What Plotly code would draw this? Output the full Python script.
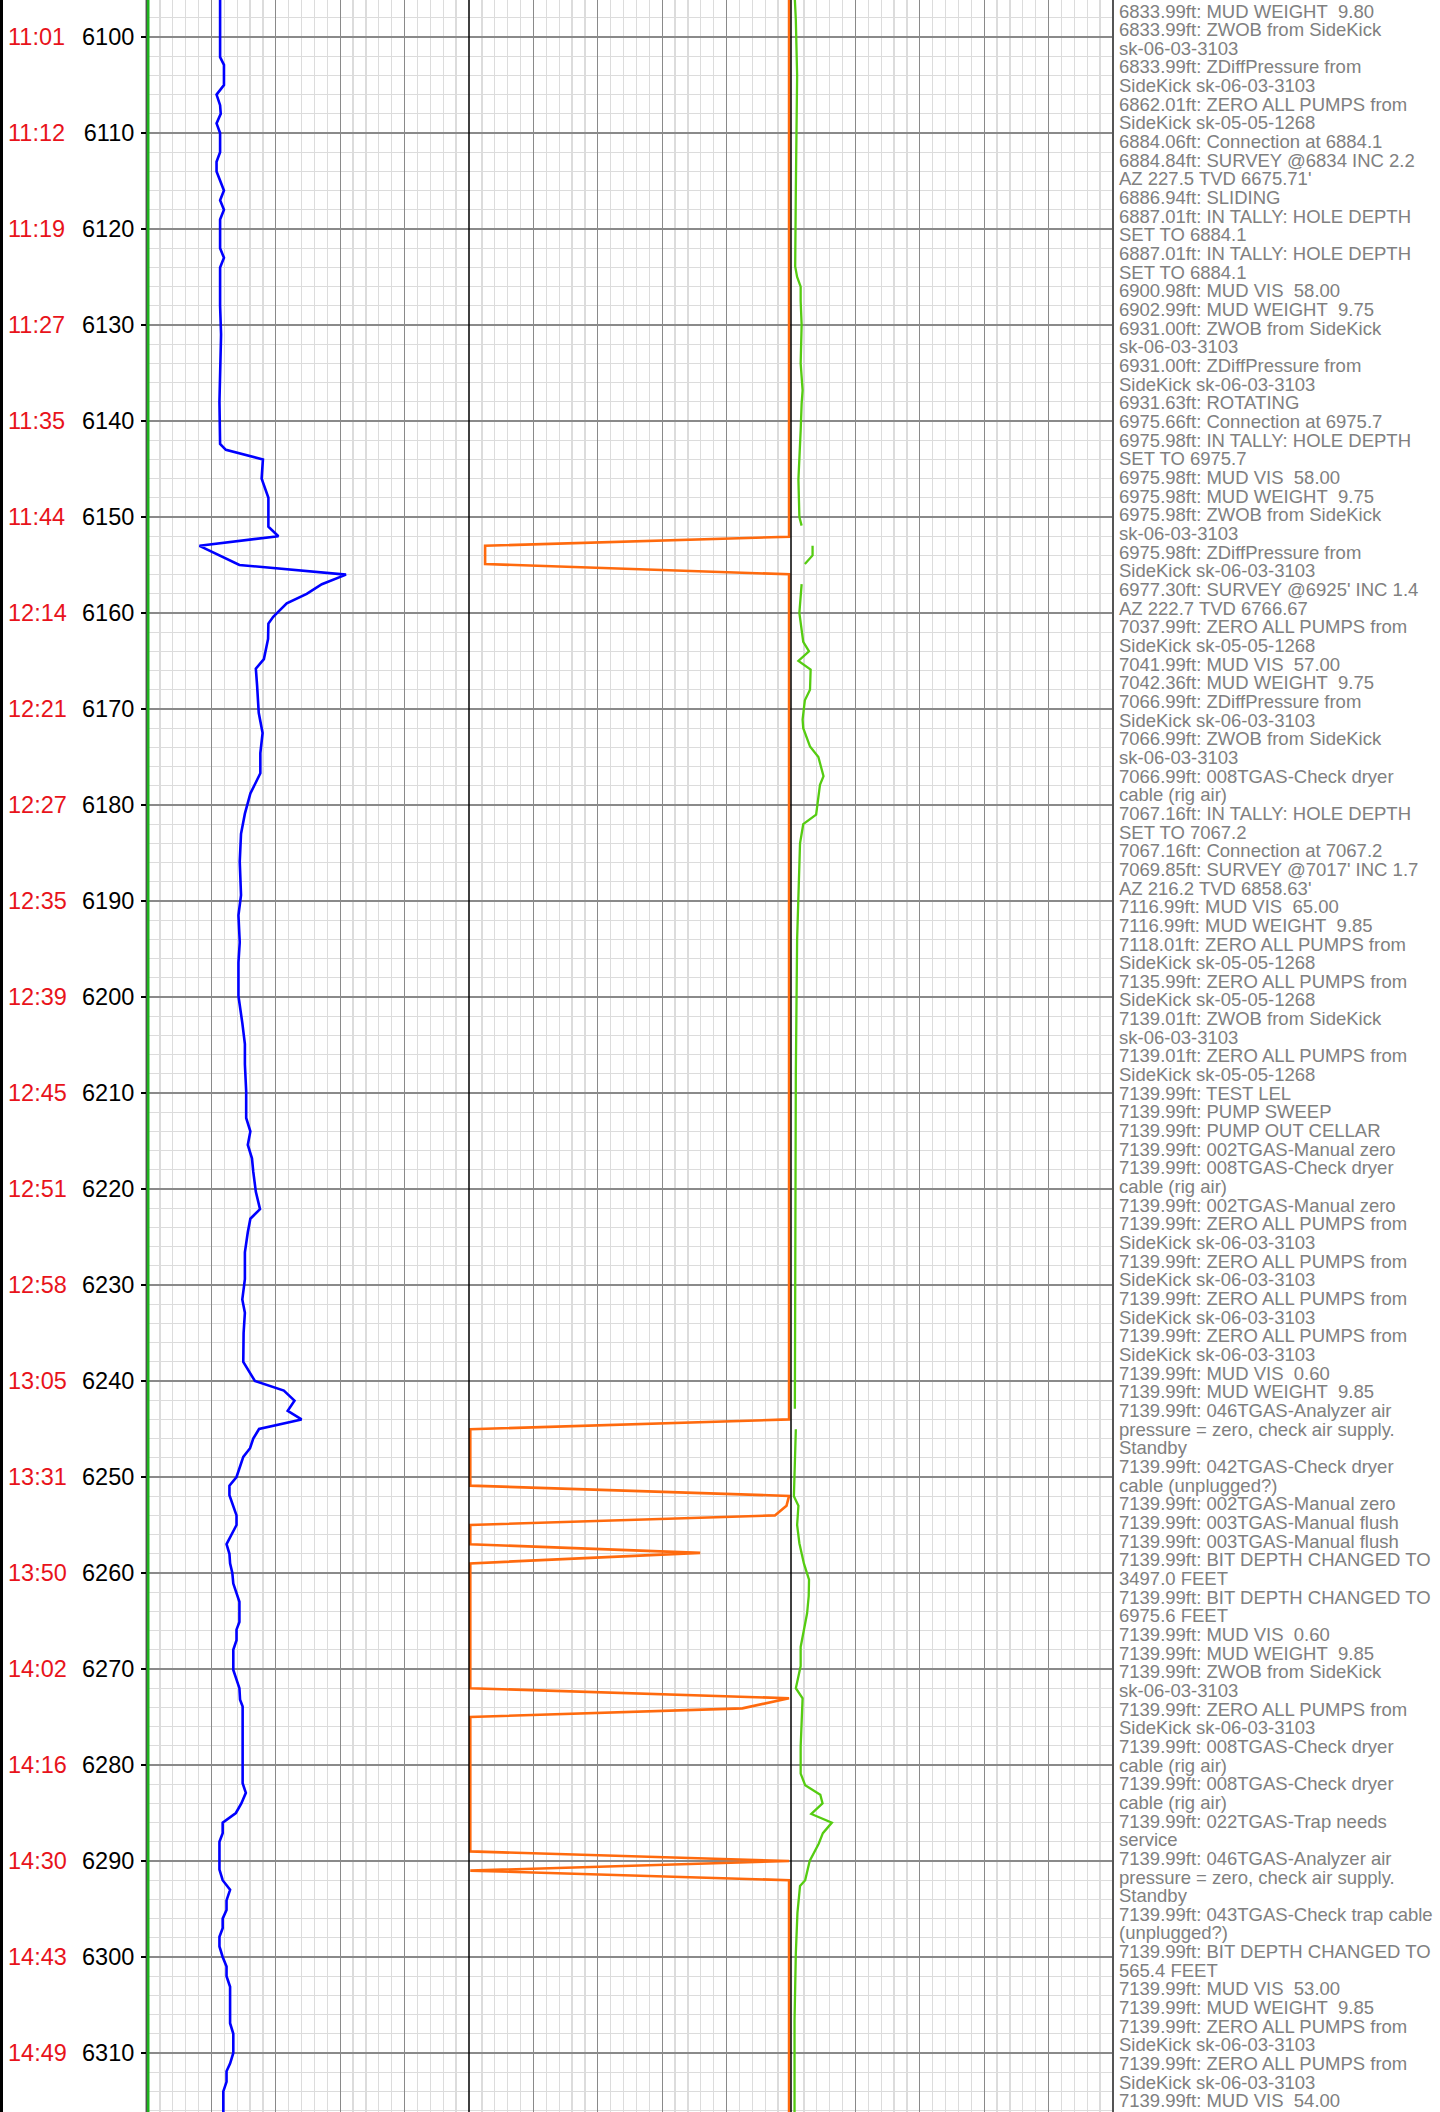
import plotly.graph_objects as go

# ---------------- data ----------------
tick_depths = [6100, 6110, 6120, 6130, 6140, 6150, 6160, 6170, 6180, 6190, 6200,
               6210, 6220, 6230, 6240, 6250, 6260, 6270, 6280, 6290, 6300, 6310]
tick_times = ["11:01", "11:12", "11:19", "11:27", "11:35", "11:44", "12:14", "12:21",
              "12:27", "12:35", "12:39", "12:45", "12:51", "12:58", "13:05", "13:31",
              "13:50", "14:02", "14:16", "14:30", "14:43", "14:49"]

blue_depth = [6096.1, 6102.1, 6102.9, 6105, 6106, 6107.1, 6108, 6109, 6110, 6112, 6113,
              6114, 6116, 6117, 6118, 6119, 6122, 6123, 6124, 6128, 6131, 6135, 6138,
              6142.4, 6143, 6144, 6146, 6148, 6151, 6152, 6153, 6155, 6156, 6157, 6158,
              6159, 6160.4, 6161.1, 6162.7, 6164.8, 6165.8, 6167.6, 6170.4, 6172.5,
              6174.6, 6176.7, 6178.8, 6180.9, 6183, 6185.9, 6189.4, 6191.5, 6194.3,
              6196.4, 6199.9, 6202.7, 6204.9, 6207, 6209.8, 6212.6, 6214, 6215.4,
              6216.8, 6218.2, 6220.3, 6222.1, 6223.1, 6224.5, 6226.6, 6229.4, 6231.5,
              6232.9, 6235, 6238, 6240, 6241, 6242.05, 6243.1, 6244, 6245, 6246, 6247,
              6247.9, 6250, 6250.9, 6251.9, 6254, 6255, 6256, 6257, 6258, 6259, 6260,
              6261.1, 6263, 6265.1, 6265.9, 6267, 6268, 6270.1, 6272, 6273.2, 6273.9,
              6281.9, 6282.9, 6284, 6285, 6286, 6287.1, 6288, 6290.9, 6292, 6293,
              6294.1, 6295.1, 6296, 6297, 6297.9, 6298.9, 6300, 6301, 6302, 6303.1,
              6306.9, 6308, 6310, 6311.1, 6311.9, 6313, 6314, 6316.2]
blue_value = [22.7, 22.7, 23.9, 23.9, 21.6, 22.7, 22.9, 21.6, 22.7, 22.7, 21.6,
              21.6, 23.9, 22.7, 23.9, 22.7, 22.7, 23.9, 22.7, 22.7, 23.0, 22.7, 22.5,
              22.7, 24.5, 36.0, 35.6, 37.7, 37.7, 40.8, 16.3, 28.7, 61.8, 54.3, 49.6,
              43.4, 39.2, 37.7, 37.6, 36.3, 33.8, 34.2, 34.7, 35.9,
              35.2, 35.2, 32.1, 30.4, 29.2, 28.8, 29.2, 28.4, 28.8,
              28.4, 28.4, 29.6, 30.4, 30.4, 30.8, 30.8, 32.1, 31.3,
              32.6, 33.0, 33.8, 35.1, 32.1, 31.3, 30.4, 30.4, 29.6,
              30.4, 30.0, 29.9, 33.5, 42.5, 45.8, 43.7, 48.0, 34.8, 33.0, 32.0,
              29.9, 27.8, 25.6, 25.6, 27.8, 27.8, 26.3, 24.7, 25.6, 25.8, 26.5,
              26.8, 28.7, 28.7, 27.8, 27.8, 26.8, 26.8, 28.7, 28.9, 29.7,
              29.7, 30.7, 29.3, 27.6, 23.5, 23.5, 22.5, 22.5, 23.5, 25.8,
              24.7, 24.7, 23.5, 23.5, 22.5, 22.5, 23.5, 24.7, 24.7, 25.8,
              25.8, 26.8, 26.8, 25.8, 24.7, 24.7, 23.7, 23.7]

orange_depth = [6096.1, 6152.05, 6153.0, 6154.9, 6155.97, 6244.0, 6245.03, 6250.9,
                6251.97, 6253.0, 6254.0, 6255.0, 6257.0, 6257.9, 6259.0, 6272.0,
                6273.05, 6274.1, 6275.0, 6289.0, 6290.0, 6291.0, 6292.0, 6316.2]
orange_value = [99.4, 99.4, 5.0, 5.0, 99.4, 99.4, 0.4, 0.4,
                99.4, 98.6, 95.0, 0.4, 0.4, 71.8, 0.4, 0.4,
                99.4, 84.9, 0.4, 0.4, 99.4, 0.4, 99.4, 99.4]

green_depth = [6096.1, 6098.2, 6104, 6110, 6116, 6123.9, 6125, 6126, 6127.5, 6130, 6134,
               6136.8, 6138.2, 6141, 6143.8, 6146.1, 6150, 6150.9, None,
               6153.0, 6154.0, 6154.9, None,
               6157.0, 6160.0, 6163.0, 6164.0, 6165.0, 6165.9, 6168, 6169.1, 6171.1,
               6172, 6173.9, 6175, 6177, 6177.9, 6181, 6182, 6184, 6187.8, 6194, 6208,
               6222, 6236, 6242.9, None,
               6245.03, 6250, 6252, 6253, 6255, 6256.9, 6259, 6260.7, 6262.4, 6264.2,
               6265.9, 6267.7, 6269.7, 6272, 6273.05, 6278.1, 6280.9, 6282.1, 6283.1,
               6284, 6285.1, 6286, 6287.1, 6288.2, 6290, 6292, 6292.6, 6295.4, 6299.6,
               6306.6, 6316.2]
green_value = [1.2, 1.5, 1.9, 1.6, 1.5, 1.3, 1.9, 3.0, 3.0, 3.3, 3.0,
               3.6, 3.3, 3.0, 2.7, 2.3, 2.6, 3.3, None,
               6.7, 6.7, 4.3, None,
               3.3, 2.6, 3.8, 5.6, 2.3, 6.1, 5.9, 4.3, 3.6,
               3.8, 5.9, 8.5, 10.1, 9.0, 7.8, 3.8, 2.8, 2.5, 1.9, 1.5,
               1.4, 1.4, 1.2, None,
               1.5, 1.2, 0.9, 2.3, 1.9, 2.6, 4.0, 5.6, 5.5, 5.0,
               4.0, 3.0, 3.0, 1.5, 3.6, 3.0, 3.0, 4.4, 9.1,
               9.8, 6.3, 12.7, 9.9, 8.6, 5.8, 4.4, 2.8, 2.0, 1.5,
               1.1, 1.1]

event_lines = [
    "6833.99ft: MUD WEIGHT  9.80",
    "6833.99ft: ZWOB from SideKick",
    "sk-06-03-3103",
    "6833.99ft: ZDiffPressure from",
    "SideKick sk-06-03-3103",
    "6862.01ft: ZERO ALL PUMPS from",
    "SideKick sk-05-05-1268",
    "6884.06ft: Connection at 6884.1",
    "6884.84ft: SURVEY @6834 INC 2.2",
    "AZ 227.5 TVD 6675.71'",
    "6886.94ft: SLIDING",
    "6887.01ft: IN TALLY: HOLE DEPTH",
    "SET TO 6884.1",
    "6887.01ft: IN TALLY: HOLE DEPTH",
    "SET TO 6884.1",
    "6900.98ft: MUD VIS  58.00",
    "6902.99ft: MUD WEIGHT  9.75",
    "6931.00ft: ZWOB from SideKick",
    "sk-06-03-3103",
    "6931.00ft: ZDiffPressure from",
    "SideKick sk-06-03-3103",
    "6931.63ft: ROTATING",
    "6975.66ft: Connection at 6975.7",
    "6975.98ft: IN TALLY: HOLE DEPTH",
    "SET TO 6975.7",
    "6975.98ft: MUD VIS  58.00",
    "6975.98ft: MUD WEIGHT  9.75",
    "6975.98ft: ZWOB from SideKick",
    "sk-06-03-3103",
    "6975.98ft: ZDiffPressure from",
    "SideKick sk-06-03-3103",
    "6977.30ft: SURVEY @6925' INC 1.4",
    "AZ 222.7 TVD 6766.67",
    "7037.99ft: ZERO ALL PUMPS from",
    "SideKick sk-05-05-1268",
    "7041.99ft: MUD VIS  57.00",
    "7042.36ft: MUD WEIGHT  9.75",
    "7066.99ft: ZDiffPressure from",
    "SideKick sk-06-03-3103",
    "7066.99ft: ZWOB from SideKick",
    "sk-06-03-3103",
    "7066.99ft: 008TGAS-Check dryer",
    "cable (rig air)",
    "7067.16ft: IN TALLY: HOLE DEPTH",
    "SET TO 7067.2",
    "7067.16ft: Connection at 7067.2",
    "7069.85ft: SURVEY @7017' INC 1.7",
    "AZ 216.2 TVD 6858.63'",
    "7116.99ft: MUD VIS  65.00",
    "7116.99ft: MUD WEIGHT  9.85",
    "7118.01ft: ZERO ALL PUMPS from",
    "SideKick sk-05-05-1268",
    "7135.99ft: ZERO ALL PUMPS from",
    "SideKick sk-05-05-1268",
    "7139.01ft: ZWOB from SideKick",
    "sk-06-03-3103",
    "7139.01ft: ZERO ALL PUMPS from",
    "SideKick sk-05-05-1268",
    "7139.99ft: TEST LEL",
    "7139.99ft: PUMP SWEEP",
    "7139.99ft: PUMP OUT CELLAR",
    "7139.99ft: 002TGAS-Manual zero",
    "7139.99ft: 008TGAS-Check dryer",
    "cable (rig air)",
    "7139.99ft: 002TGAS-Manual zero",
    "7139.99ft: ZERO ALL PUMPS from",
    "SideKick sk-06-03-3103",
    "7139.99ft: ZERO ALL PUMPS from",
    "SideKick sk-06-03-3103",
    "7139.99ft: ZERO ALL PUMPS from",
    "SideKick sk-06-03-3103",
    "7139.99ft: ZERO ALL PUMPS from",
    "SideKick sk-06-03-3103",
    "7139.99ft: MUD VIS  0.60",
    "7139.99ft: MUD WEIGHT  9.85",
    "7139.99ft: 046TGAS-Analyzer air",
    "pressure = zero, check air supply.",
    "Standby",
    "7139.99ft: 042TGAS-Check dryer",
    "cable (unplugged?)",
    "7139.99ft: 002TGAS-Manual zero",
    "7139.99ft: 003TGAS-Manual flush",
    "7139.99ft: 003TGAS-Manual flush",
    "7139.99ft: BIT DEPTH CHANGED TO",
    "3497.0 FEET",
    "7139.99ft: BIT DEPTH CHANGED TO",
    "6975.6 FEET",
    "7139.99ft: MUD VIS  0.60",
    "7139.99ft: MUD WEIGHT  9.85",
    "7139.99ft: ZWOB from SideKick",
    "sk-06-03-3103",
    "7139.99ft: ZERO ALL PUMPS from",
    "SideKick sk-06-03-3103",
    "7139.99ft: 008TGAS-Check dryer",
    "cable (rig air)",
    "7139.99ft: 008TGAS-Check dryer",
    "cable (rig air)",
    "7139.99ft: 022TGAS-Trap needs",
    "service",
    "7139.99ft: 046TGAS-Analyzer air",
    "pressure = zero, check air supply.",
    "Standby",
    "7139.99ft: 043TGAS-Check trap cable",
    "(unplugged?)",
    "7139.99ft: BIT DEPTH CHANGED TO",
    "565.4 FEET",
    "7139.99ft: MUD VIS  53.00",
    "7139.99ft: MUD WEIGHT  9.85",
    "7139.99ft: ZERO ALL PUMPS from",
    "SideKick sk-06-03-3103",
    "7139.99ft: ZERO ALL PUMPS from",
    "SideKick sk-06-03-3103",
    "7139.99ft: MUD VIS  54.00",
]

# ---------------- layout constants ----------------
W, H = 1440, 2112
ML, MR = 147, 327
PW = W - ML - MR
depth_top, depth_bottom = 6096.146, 6316.146
FONT = "Liberation Sans, Arial, Helvetica, sans-serif"
MAJ = "#8a8a8a"
MIN = "#dcdcdc"


def px_to_paper_x(px):
    return (px - ML) / PW


fig = go.Figure()

fig.add_trace(go.Scatter(x=blue_value, y=blue_depth, mode="lines",
                         line=dict(color="#0000ff", width=2.6), xaxis="x", yaxis="y",
                         showlegend=False, hoverinfo="skip"))
fig.add_trace(go.Scatter(x=orange_value, y=orange_depth, mode="lines",
                         line=dict(color="#ff6a0e", width=2.6), xaxis="x2", yaxis="y2",
                         showlegend=False, hoverinfo="skip"))
fig.add_trace(go.Scatter(x=green_value, y=green_depth, mode="lines", connectgaps=False,
                         line=dict(color="#55cc11", width=2.3), xaxis="x3", yaxis="y3",
                         showlegend=False, hoverinfo="skip"))

xcommon = dict(range=[0, 100], tickmode="linear", tick0=0, dtick=20,
               showticklabels=False, ticks="", showline=False, zeroline=False,
               showgrid=True, gridcolor=MAJ, gridwidth=1.3,
               minor=dict(tickmode="linear", tick0=0, dtick=4, showgrid=True,
                          gridcolor=MIN, gridwidth=1.3, ticks=""))
ycommon = dict(range=[depth_bottom, depth_top], zeroline=False, showline=False,
               tickmode="array", tickvals=tick_depths,
               showgrid=True, gridcolor=MAJ, gridwidth=1.3,
               minor=dict(tickmode="linear", tick0=6100, dtick=2, showgrid=True,
                          gridcolor=MIN, gridwidth=1.3, ticks=""))

fig.update_layout(
    width=W, height=H,
    margin=dict(l=ML, r=MR, t=0, b=0, pad=0),
    paper_bgcolor="white", plot_bgcolor="white",
    font=dict(family=FONT, color="black"),
    xaxis=dict(domain=[0, 1 / 3], anchor="y", **xcommon),
    xaxis2=dict(domain=[1 / 3, 2 / 3], anchor="y2", **xcommon),
    xaxis3=dict(domain=[2 / 3, 1], anchor="y3", **xcommon),
    yaxis=dict(anchor="x", ticktext=[str(d) for d in tick_depths],
               ticks="outside", ticklen=5, tickwidth=2, tickcolor="black",
               ticklabelstandoff=2,
               tickfont=dict(family=FONT, size=23.5, color="black"), **ycommon),
    yaxis2=dict(anchor="x2", matches="y", showticklabels=False, ticks="", **ycommon),
    yaxis3=dict(anchor="x3", matches="y", showticklabels=False, ticks="", **ycommon),
)

# time labels (red) beside the depth ticks
for d, t in zip(tick_depths, tick_times):
    fig.add_annotation(x=px_to_paper_x(6), xref="paper", xanchor="left",
                       y=d, yref="y", yanchor="middle", text=t, showarrow=False,
                       font=dict(family=FONT, size=23.5, color="#e8131b"))

# remarks column
LINE0, LINE_DY = 11.0, 18.66
for i, line in enumerate(event_lines):
    ypx = LINE0 + i * LINE_DY
    fig.add_annotation(x=px_to_paper_x(1117), xref="paper", xanchor="left",
                       y=1 - ypx / H, yref="paper", yanchor="middle",
                       text=line.replace("  ", "\u00a0\u00a0"), showarrow=False,
                       font=dict(family=FONT, size=18.5, color="#808080"))

# borders
shapes = [
    dict(x=px_to_paper_x(1.5), color="black", width=3),
    dict(x=px_to_paper_x(146.2), color="black", width=1),
    dict(x=px_to_paper_x(148.2), color="#1db31d", width=2.6),
    dict(x=1 / 3, color="black", width=1.5),
    dict(x=2 / 3, color="black", width=1.5),
    dict(x=1.0, color="#555555", width=2),
]
for s in shapes:
    fig.add_shape(type="line", xref="paper", yref="paper", x0=s["x"], x1=s["x"],
                  y0=0, y1=1, line=dict(color=s["color"], width=s["width"]))

fig.write_html("out.html",
               config={"displayModeBar": False, "staticPlot": True},
               post_script="document.body.style.margin='0';"
                           "document.body.style.padding='0';"
                           "document.body.style.overflow='hidden';")
